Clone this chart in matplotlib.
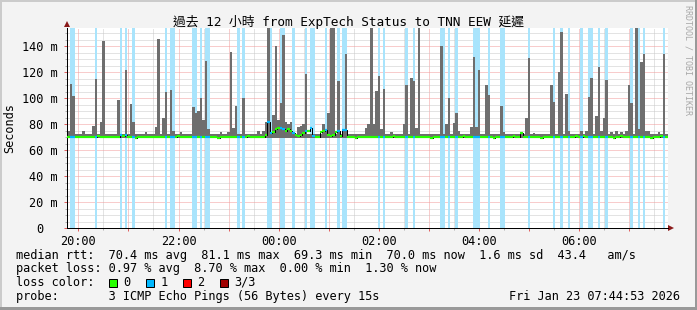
import numpy as np
import matplotlib.pyplot as plt
from matplotlib.patches import Rectangle
from matplotlib.ticker import MultipleLocator, FuncFormatter

W, H = 697, 310
MONO = 'DejaVu Sans Mono'
FS = 8.55

# 12 h of 3-minute columns, first column starts 19:46:24
t_start = 19 * 60 + 46.4
step = 3
n_cols = 240
base_min = 69.3
base_max = 72.3
base_med = 70.2

# smoke tops (ms) where they differ from base_max
spike_col = [0, 1, 2, 6, 10, 11, 13, 14, 20, 23, 25, 26, 31, 35, 36, 38, 39, 41, 42, 45,
             50, 51, 52, 53, 54, 55, 56, 61, 64, 65, 66, 67, 70, 76, 78, 79, 80, 82, 83, 84,
             85, 86, 87, 88, 89, 92, 93, 94, 95, 102, 103, 104, 105, 106, 108, 110, 111, 119,
             120, 121, 122, 123, 124, 125, 126, 129, 134, 135, 137, 138, 139, 140, 149, 151,
             152, 154, 155, 156, 161, 162, 163, 164, 167, 168, 173, 174, 181, 183, 184, 186,
             193, 194, 196, 197, 199, 200, 205, 207, 208, 209, 211, 212, 213, 214, 215, 217,
             219, 221, 223, 224, 225, 227, 228, 229, 230, 231, 232, 236, 238]
spike_max = [75, 111, 102, 75, 79, 115, 81.5, 144.5, 98.5, 122, 95.5, 82, 74, 78, 146, 85, 104.5, 106.5, 75, 74,
             93, 89, 90, 100.5, 83, 128.5, 76, 74, 74, 135.5, 77, 94, 100.5, 75, 74.5, 82, 165, 87, 140, 83,
             96, 149, 82, 80, 82, 78, 79, 80, 119, 80, 76, 89, 165, 165, 113, 76, 134, 77,
             80, 165, 80, 106, 117, 76, 107, 74, 80, 110, 116, 113, 77, 165, 140.5, 80,
             100, 81, 89, 75, 78, 131.5, 78, 121.5, 110, 102.5, 94, 74, 74, 84.5, 131, 73.5,
             110, 97.5, 120.5, 151, 103, 75, 75, 75, 101, 116, 86.5, 124, 75, 84.5, 114, 74,
             74.5, 74, 75, 110, 96, 165, 76, 128, 134, 75, 75, 74, 134.5]

# columns with 1 of 3 pings lost
loss_col = [1, 2, 11, 21, 23, 26, 39, 41, 42, 50, 51, 53, 55, 56, 68, 70, 80, 81, 85, 86, 90,
            95, 97, 98, 103, 108, 110, 111, 124, 126, 135, 138, 149, 150, 152, 155, 162, 163,
            164, 168, 173, 174, 184, 194, 197, 200, 205, 208, 209, 212, 215, 225, 228, 230, 238]

# median rtt (ms) where it differs from base_med
med_col = [12, 21, 22, 23, 27, 44, 60, 72, 79, 80, 81, 82, 83, 84, 85, 86, 87, 88, 89, 90, 91,
           92, 93, 94, 95, 96, 97, 98, 99, 100, 101, 102, 103, 104, 105, 106, 107, 108, 109,
           110, 111, 115, 130, 145, 158, 170, 178, 181, 189, 203, 206, 218, 221, 233, 237]
med_val = [70.9, 71.5, 71, 71.8, 69.6, 70.9, 69.6, 70.9, 72, 82, 73.5, 74, 76, 77, 77, 76, 75, 76, 75, 73.5, 72,
           71, 72, 73, 74.5, 75, 77, 71, 70.5, 70.5, 74, 75, 75.5, 71.5, 71, 71.5, 74, 74.5, 71,
           75.5, 75.5, 69.6, 70.9, 69.6, 70.9, 69.6, 70.9, 73, 69.6, 70.9, 71.2, 69.6, 70.9, 69.6, 70.9]

t = t_start + step * np.arange(n_cols)
rtt_max = np.full(n_cols, base_max)
rtt_max[spike_col] = spike_max
median = np.full(n_cols, base_med)
median[med_col] = med_val
lost = np.zeros(n_cols, dtype=bool)
lost[loss_col] = True

fig = plt.figure(figsize=(W / 100, H / 100), dpi=100, facecolor='#F3F3F3')

def px(x, y, w, h, c):
    fig.patches.append(Rectangle((x / W, 1 - (y + h) / H), w / W, h / H,
                                 transform=fig.transFigure, color=c, lw=0))

# 3d border
px(0, 0, W, 2, '#CBCBCB')
px(0, 0, 2, H, '#CBCBCB')
px(W - 2, 0, 2, H, '#999999')
px(0, H - 3, W, 3, '#999999')

ax = fig.add_axes([67 / W, (H - 228) / H, 601 / W, 200 / H])
ax.set_facecolor('white')
ax.set_xlim(t_start, t_start + step * n_cols)
ax.set_ylim(0, 154.2)
ax.set_axisbelow(True)

for c in t[lost]:
    ax.axvspan(c, c + step, color='#A9E4FC', lw=0, zorder=1)

ax.bar(t, rtt_max - base_min, bottom=base_min, width=step, align='edge',
       color='#6E6E6E', lw=0, zorder=2, antialiased=False)

ax.step(np.append(t, t[-1] + step), np.append(median, median[-1]), where='post',
        color='black', lw=0.72, zorder=3)
ax.hlines(median, t, t + step, colors=np.where(lost, '#00B8FF', '#26FF00'),
          lw=1.6, zorder=4)

ax.xaxis.set_major_locator(MultipleLocator(60))
ax.xaxis.set_minor_locator(MultipleLocator(30))
ax.xaxis.set_major_formatter(FuncFormatter(
    lambda v, p: '%02d:00' % (int(round(v / 60)) % 24) if int(round(v / 60)) % 2 == 0 else ''))
ax.yaxis.set_major_locator(MultipleLocator(20))
ax.yaxis.set_minor_locator(MultipleLocator(5))
ax.yaxis.set_major_formatter(FuncFormatter(lambda v, p: '0  ' if v == 0 else '%d m' % v))

ax.grid(which='major', color='#F29B9B', ls=(0, (1, 1)), lw=0.72)
ax.grid(which='minor', color='#C8C8C8', ls=(0, (1, 1)), lw=0.72)
ax.tick_params(which='major', length=2.5, width=0.72, color='#E06060', pad=2.5,
               labelsize=FS, labelfontfamily=MONO)
ax.tick_params(which='minor', length=1.5, width=0.72, color='#B0B0B0')
ax.tick_params(axis='y', which='major', pad=4)

for s in ['top', 'right']:
    ax.spines[s].set_visible(False)
for s in ['left', 'bottom']:
    ax.spines[s].set_linewidth(0.72)
    ax.spines[s].set_color('black')

ax.plot([0], [1.0195], marker='^', ms=4.2, color='#8B1A1A', mew=0,
        transform=ax.transAxes, clip_on=False)
ax.plot([1.0042], [0], marker='>', ms=4.2, color='#8B1A1A', mew=0,
        transform=ax.transAxes, clip_on=False)

def ftext(x, y, s, **kw):
    kw.setdefault('family', MONO)
    kw.setdefault('fontsize', FS)
    kw.setdefault('va', 'baseline')
    fig.text(x / W, 1 - y / H, s, **kw)

ftext(W / 2, 26, '過去 12 小時 from ExpTech Status to TNN EEW 延遲', ha='center',
      family=[MONO, 'Noto Sans CJK TC'], fontsize=9.2)
ftext(10, 128, 'Seconds', rotation=90, ha='center', va='center')
ftext(688, 5, 'RRDTOOL / TOBI OETIKER', rotation=-90, ha='center', va='top',
      fontsize=6, color='#A8A8A8')

ftext(16, 258.5, 'median rtt:  70.4 ms avg  81.1 ms max  69.3 ms min  70.0 ms now  1.6 ms sd  43.4   am/s')
ftext(16, 272.2, 'packet loss: 0.97 % avg  8.70 % max  0.00 % min  1.30 % now')
ftext(16, 285.9, 'loss color:')
loss_names = ['0', '1', '2', '3/3']
loss_colors = ['#26FF00', '#00B8FF', '#FF0000', '#A00000']
for i, (nm, c) in enumerate(zip(loss_names, loss_colors)):
    x0 = 108.5 + 37 * i
    fig.patches.append(Rectangle((x0 / W, 1 - 286.5 / H), 8 / W, 8 / H,
                                 transform=fig.transFigure, facecolor=c,
                                 edgecolor='black', lw=0.72))
    ftext(x0 + 15, 285.9, nm)
ftext(16, 299.6, 'probe:       3 ICMP Echo Pings (56 Bytes) every 15s')
ftext(680, 299.6, 'Fri Jan 23 07:44:53 2026', ha='right')

fig.savefig('out.png', dpi=100, facecolor=fig.get_facecolor())
